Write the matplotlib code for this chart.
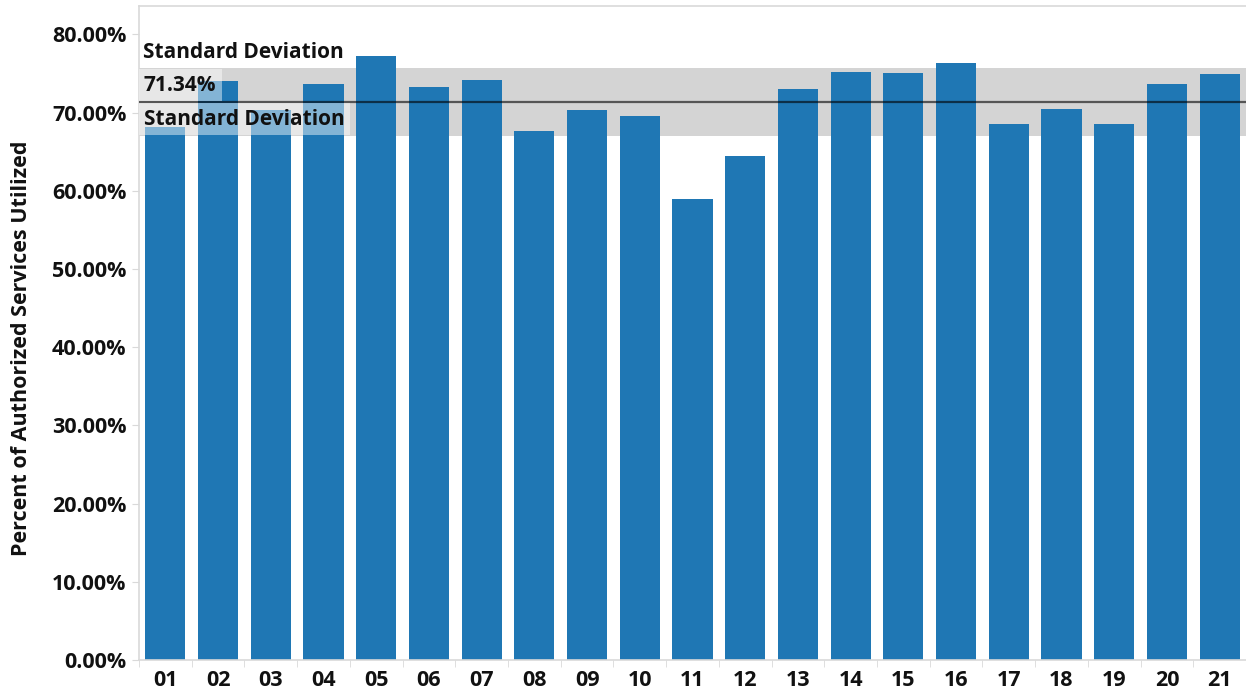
import matplotlib
matplotlib.use("Agg")
import matplotlib.pyplot as plt
import numpy as np

categories = ["01", "02", "03", "04", "05", "06", "07", "08", "09", "10", "11",
              "12", "13", "14", "15", "16", "17", "18", "19", "20", "21"]
values = [68.2, 74.0, 70.3, 73.7, 77.2, 73.3, 74.2, 67.6, 70.3, 69.6, 58.9,
          64.5, 73.0, 75.2, 75.0, 76.4, 68.6, 70.5, 68.6, 73.7, 74.9]
mean_value = 71.34
std_value = 4.35
yticks = [0, 10, 20, 30, 40, 50, 60, 70, 80]
ylabel = "Percent of Authorized Services Utilized"

plt.rcParams['font.family'] = ['Open Sans', 'DejaVu Sans']

fig = plt.figure(figsize=(12.46, 6.95), dpi=100)
ax = fig.add_axes([139/1246, 35/695, 1 - 139/1246, (660-6)/695])

x = np.arange(len(categories))
ax.axhspan(mean_value - std_value, mean_value + std_value, color="#d4d4d4", zorder=0, lw=0)
ax.bar(x, values, width=0.76, color="#1f77b4", zorder=2)
ax.axhline(mean_value, color="black", alpha=0.6, lw=1.6, zorder=3)

ax.set_xlim(-0.5, len(categories) - 0.5)
ax.set_ylim(0, 83.63)

txtc = "#111111"
fs = 15
ax.annotate("Standard Deviation", xy=(-0.5, mean_value + std_value), xytext=(3, 4),
            textcoords="offset points", ha="left", va="bottom", fontsize=fs,
            fontweight="bold", color=txtc, zorder=5)
ax.annotate(f"{mean_value:.2f}%", xy=(-0.5, (mean_value + mean_value + std_value) / 2),
            xytext=(3.5, 0), textcoords="offset points", ha="left", va="center",
            fontsize=fs, fontweight="bold", color=txtc, zorder=5,
            bbox=dict(boxstyle="square,pad=0.25", fc="white", ec="none", alpha=0.45))
ax.annotate("Standard Deviation", xy=(-0.5, (mean_value + mean_value - std_value) / 2),
            xytext=(3.5, 0), textcoords="offset points", ha="left", va="center",
            fontsize=fs, fontweight="bold", color=txtc, zorder=5,
            bbox=dict(boxstyle="square,pad=0.25", fc="white", ec="none", alpha=0.45))

ax.set_yticks(yticks)
ax.set_yticklabels([f"{v:.2f}%" for v in yticks])
ax.set_xticks(x)
ax.set_xticklabels(categories)
ax.set_xticks(np.arange(-0.5, len(categories), 1), minor=True)
ax.tick_params(axis="x", which="major", length=0, pad=7)
ax.tick_params(axis="x", which="minor", length=5, color="#d9d9d9")
ax.tick_params(axis="y", length=5, color="#d9d9d9", pad=4)
for lab in ax.get_xticklabels() + ax.get_yticklabels():
    lab.set_fontsize(15.5)
    lab.set_fontweight("bold")
    lab.set_color(txtc)

ax.set_ylabel(ylabel, fontsize=15.5, fontweight="bold", color=txtc)
ax.yaxis.set_label_coords(-0.0965, 0.477)

for s in ["left", "bottom", "top"]:
    ax.spines[s].set_color("#d9d9d9")
    ax.spines[s].set_linewidth(1.2)
ax.spines["right"].set_visible(False)

fig.savefig("out.png", dpi=100)
